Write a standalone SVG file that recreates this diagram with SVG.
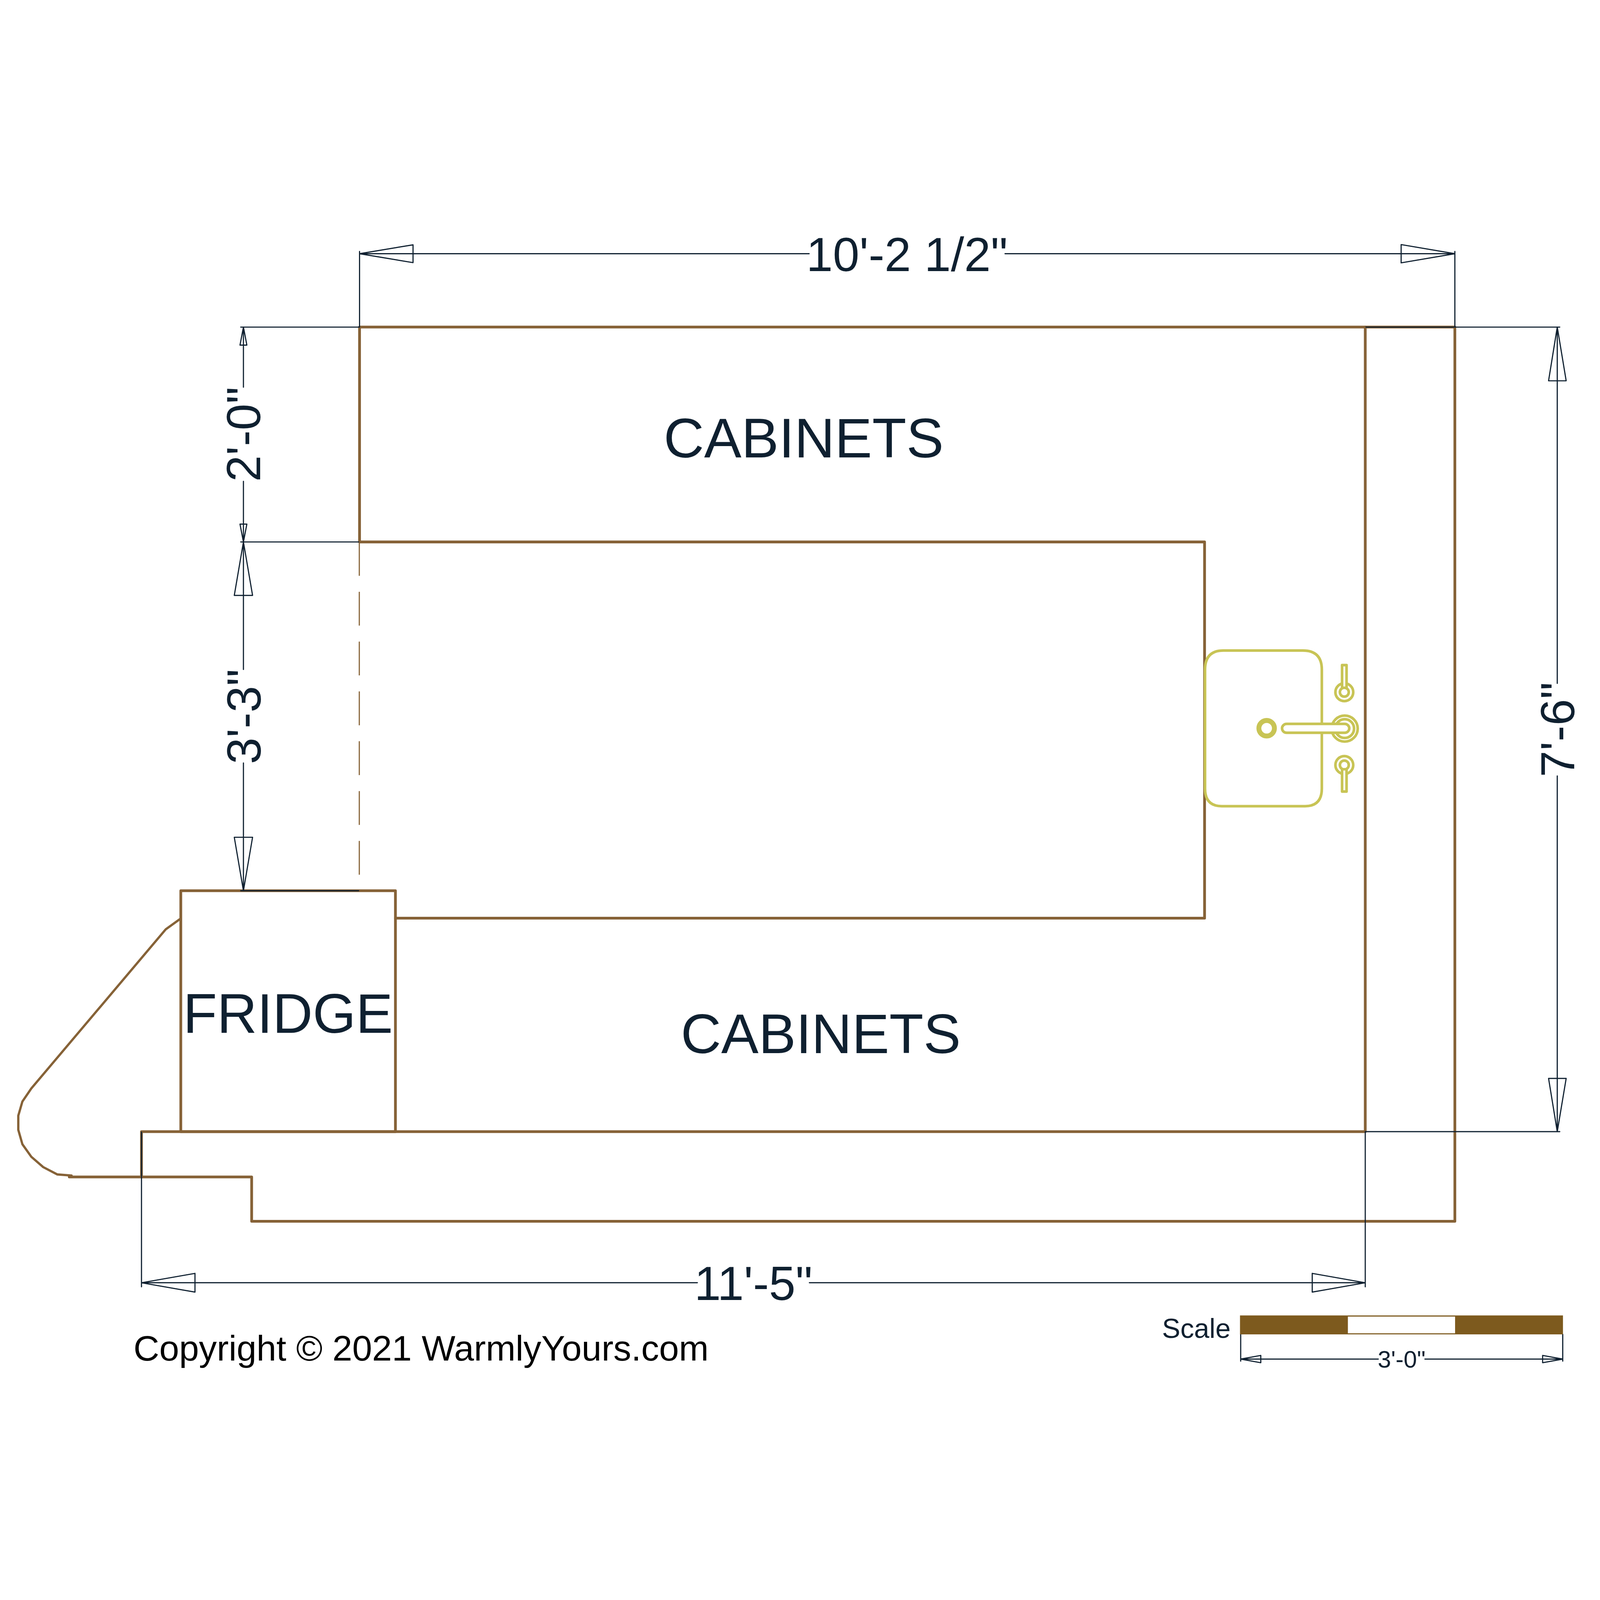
<svg xmlns="http://www.w3.org/2000/svg" width="7000" height="7000" viewBox="0 0 7000 7000">
<style>
svg{width:100vw;height:100vh}
text{font-family:"Liberation Sans",Arial,sans-serif;fill:#0f2030}
.big{font-size:243px;text-anchor:middle}
.cab{font-size:245px;text-anchor:middle}
.dimt{font-size:209px;text-anchor:middle}
.wall{fill:none;stroke:#866237;stroke-width:12;stroke-linejoin:round;stroke-linecap:round}
.thin{fill:none;stroke:#866237;stroke-width:10;stroke-linejoin:round;stroke-linecap:round}
.dash{fill:none;stroke:#866237;stroke-width:5;stroke-dasharray:148 70}
.dim{fill:none;stroke:#0f2030;stroke-width:5;stroke-linejoin:round;stroke-linecap:round}
.sink{fill:none;stroke:#c8c455;stroke-width:11.5;stroke-linejoin:round}
.lever{fill:#fff;stroke:#c8c455;stroke-width:11.5;stroke-linejoin:round}
</style>
<rect width="7000" height="7000" fill="#fff"/>
<g id="walls">
<path class="wall" d="M1573 2371V1431H6365V5343H1101V5149H303"/>
<path class="wall" d="M1573 2371H5270V4017H1730"/>
<path class="wall" d="M5973 1431V4951H619V5149"/>
<path class="dash" d="M1572 2371V3829"/>
</g>
<g id="fridge">
<rect class="wall" x="791" y="3897" width="939" height="1054"/>
<path class="thin" d="M786 4022L725 4066L137 4762L98 4819L80 4881V4943L98 5006L137 5061L189 5106L250 5138L313 5143"/>
<text class="big" x="1260" y="4518">FRIDGE</text>
</g>
<g id="cabinets-top"><text class="cab" x="3516" y="2001">CABINETS</text></g>
<g id="cabinets-bottom"><text class="cab" x="3591" y="4608">CABINETS</text></g>
<g id="sink">
<path class="sink" d="M5352 2846H5700Q5783 2846 5783 2930V3450Q5783 3527 5710 3527H5345Q5272 3527 5272 3450V2930Q5272 2846 5352 2846Z"/>
<circle cx="5541.6" cy="3186" r="34" fill="none" stroke="#c8c455" stroke-width="21.5"/>
<circle class="sink" cx="5883" cy="3187.5" r="57"/>
<circle class="sink" cx="5883" cy="3187.5" r="41"/>
<rect class="lever" x="5609" y="3167" width="294" height="39" rx="20"/>
<circle class="sink" cx="5881.4" cy="3028.4" r="39"/>
<circle class="sink" cx="5881.4" cy="3028.4" r="19.5"/>
<rect class="lever" x="5871.6" y="2909.6" width="19.6" height="99.5"/>
<circle class="sink" cx="5881.4" cy="3347" r="39"/>
<circle class="sink" cx="5881.4" cy="3347" r="19.5"/>
<rect class="lever" x="5871.6" y="3365.4" width="19.6" height="97.6"/>
</g>
<g id="connectors">
<path class="dim" d="M1573 1431V1100M1573 1110H3540M4397 1110H6365M6365 1431V1100M1807 1071L1573 1110L1807 1149ZM6130 1070L6365 1110L6130 1150Z"/>
<path class="dim" d="M1053 1431H1573M1065 1431V1694M1065 2106V2371M1050 1510H1080L1065 1431ZM1050 2293H1080L1065 2371ZM1053 2371H1569"/>
<path class="dim" d="M1065 2371V2929M1065 3338V3897M1025 2605H1105L1065 2371ZM1025 3663H1105L1065 3897ZM1053 3897H1569"/>
<path class="dim" d="M5976 1431H6824M6813 1431V2990M6813 3395V4951M6775 1666H6852L6813 1431ZM6775 4718H6852L6813 4951ZM5973 4951H6824"/>
<path class="dim" d="M619 4953V5630M5973 4951V5630M619 5612H3051M3541 5612H5973M853 5571L619 5612L853 5653ZM5741 5571L5973 5612L5741 5653Z"/>
<path class="dim" d="M5428 5838V5955M6837 5838V5955M5428 5946H6030M6234 5946H6837M5516 5930V5962L5428 5946ZM6749 5930V5962L6837 5946Z"/>
</g>
<g id="dim-labels">
<text class="dimt" x="3968" y="1186">10'-2 1/2"</text>
<text class="dimt" transform="translate(1139 1900) rotate(-90)">2'-0"</text>
<text class="dimt" transform="translate(1140 3135) rotate(-90)">3'-3"</text>
<text class="dimt" transform="translate(6888 3192) rotate(-90)">7'-6"</text>
<text class="dimt" x="3296" y="5687">11'-5"</text>
</g>
<g id="copyright"><text x="584" y="5952" font-size="156.2" style="fill:#000">Copyright © 2021 WarmlyYours.com</text></g>
<g id="scale">
<path fill="#7d5a1e" fill-rule="evenodd" d="M5425 5755H6838V5838H5425ZM5897 5760V5833H6366V5760Z"/>
<text x="5084" y="5853" font-size="120">Scale</text>
<text x="6132" y="5983" font-size="105" text-anchor="middle">3'-0"</text>
</g>
</svg>
